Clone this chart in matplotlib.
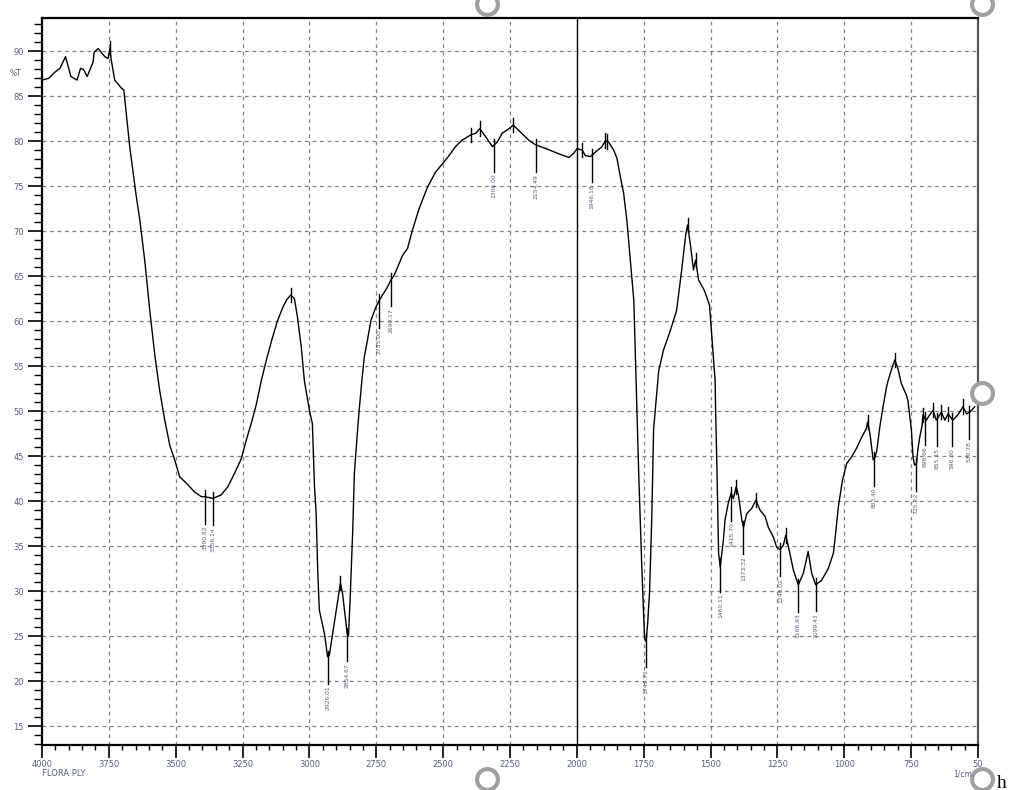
import numpy as np
import matplotlib.pyplot as plt
from matplotlib.lines import Line2D

# spectrum (wavenumber 1/cm, %T)
wavenumber = [4000, 3975, 3951, 3933, 3912, 3892, 3869, 3856, 3845, 3831, 3809, 3805,
              3790, 3765, 3753, 3746, 3742, 3728, 3703, 3694, 3672, 3649, 3634, 3616,
              3597, 3578, 3560, 3541, 3522, 3504, 3485, 3460, 3429, 3404, 3390, 3361,
              3330, 3305, 3280, 3255, 3236, 3218, 3199, 3180, 3160, 3140, 3120, 3100,
              3085, 3070, 3056, 3045, 3030, 3019, 3000, 2989, 2981, 2975, 2969, 2963,
              2944, 2932, 2926, 2913, 2894, 2884, 2876, 2859, 2854, 2848, 2838, 2832,
              2820, 2814, 2804, 2795, 2783, 2770, 2751, 2739, 2727, 2708, 2695, 2683,
              2652, 2633, 2627, 2615, 2590, 2560, 2530, 2500, 2478, 2454, 2430, 2397,
              2378, 2363, 2341, 2316, 2298, 2279, 2254, 2238, 2217, 2179, 2154, 2117,
              2067, 2030, 2011, 1999, 1980, 1968, 1949, 1931, 1906, 1893, 1881, 1862,
              1850, 1837, 1825, 1813, 1787, 1769, 1758, 1747, 1741, 1735, 1728, 1720,
              1713, 1694, 1676, 1650, 1627, 1608, 1593, 1586, 1575, 1564, 1556, 1545,
              1523, 1504, 1497, 1483, 1481, 1476, 1470, 1464, 1452, 1446, 1433, 1423,
              1415, 1404, 1396, 1383, 1377, 1365, 1346, 1331, 1315, 1296, 1284, 1265,
              1253, 1240, 1228, 1219, 1210, 1190, 1172, 1153, 1135, 1122, 1107, 1085,
              1060, 1041, 1035, 1022, 1007, 991, 973, 954, 935, 917, 913, 904,
              892, 886, 878, 867, 855, 842, 836, 824, 811, 799, 787, 768,
              762, 749, 743, 737, 730, 725, 718, 709, 706, 698, 693, 685,
              668, 656, 637, 624, 612, 594, 575, 556, 543, 530, 512]
transmittance = [86.8, 87.0, 87.7, 88.1, 89.4, 87.2, 86.8, 88.1, 88.0, 87.2, 88.8, 89.9,
                 90.3, 89.4, 89.2, 90.3, 89.2, 86.8, 85.9, 85.7, 79.4, 74.2, 71.2, 66.8,
                 61.2, 56.2, 52.3, 49.0, 46.2, 44.6, 42.7, 42.0, 41.0, 40.5, 40.5, 40.3,
                 40.7, 41.6, 43.1, 44.7, 46.8, 48.6, 50.7, 53.4, 55.8, 58.0, 60.0, 61.5,
                 62.4, 62.9, 62.5, 60.5, 57.0, 53.4, 50.1, 48.6, 41.6, 38.7, 32.3, 27.9,
                 25.3, 22.7, 22.8, 25.3, 29.0, 30.9, 29.7, 25.3, 25.0, 29.0, 36.8, 43.1,
                 47.9, 50.1, 53.4, 56.0, 57.9, 60.1, 61.6, 62.3, 62.9, 63.8, 64.6, 65.1,
                 67.3, 68.1, 68.8, 70.1, 72.5, 74.8, 76.5, 77.6, 78.4, 79.4, 80.1, 80.7,
                 80.9, 81.4, 80.5, 79.4, 79.9, 80.9, 81.4, 81.8, 81.2, 80.1, 79.6, 79.2,
                 78.6, 78.2, 78.7, 79.2, 79.0, 78.4, 78.3, 78.8, 79.4, 80.1, 79.9, 79.0,
                 78.1, 76.0, 74.2, 71.2, 62.3, 43.4, 33.4, 24.8, 24.4, 26.5, 30.0, 38.0,
                 48.0, 54.5, 56.8, 59.0, 61.2, 65.7, 69.6, 70.7, 68.4, 65.7, 66.8, 64.6,
                 63.4, 61.8, 59.0, 53.4, 49.9, 43.4, 34.2, 32.7, 35.7, 37.9, 39.9, 40.9,
                 40.3, 41.6, 40.7, 37.9, 37.1, 38.6, 39.2, 40.1, 39.0, 38.3, 37.1, 36.0,
                 34.9, 34.6, 35.1, 36.2, 35.1, 32.3, 30.7, 32.0, 34.4, 32.0, 30.7, 31.2,
                 32.5, 34.2, 35.7, 39.4, 42.3, 44.2, 44.9, 45.9, 47.1, 48.1, 48.8, 47.5,
                 44.6, 44.8, 45.7, 48.3, 50.5, 52.7, 53.4, 54.6, 55.7, 54.7, 53.1, 51.8,
                 51.2, 47.9, 44.9, 44.0, 44.2, 45.7, 47.1, 48.4, 49.6, 49.2, 49.0, 49.4,
                 50.1, 49.0, 49.9, 49.0, 49.7, 49.0, 49.6, 50.5, 49.7, 49.9, 50.5]

# labelled peaks
peak_wn = [3390, 3361, 2932, 2858, 2739, 2694, 2310, 2153, 1944, 1743, 1463, 1422,
           1377, 1239, 1172, 1105, 888, 732, 699, 654, 597, 532]
peak_labels = ['3390.82', '3356.14', '2926.01', '2854.67', '2735.00', '2690.17', '2306.00',
               '2154.49', '1946.18', '1741.72', '1460.11', '1415.70', '1373.32', '1240.02',
               '1166.93', '1099.43', '883.40', '725.22', '698.66', '655.15', '596.30', '530.78']
# other peak marks (short ticks on the trace)
mark_wn = [3746, 3070, 2884, 2397, 2363, 2238, 1980, 1893, 1886, 1586, 1556, 1404,
           1331, 1219, 913, 811, 706, 668, 637, 612, 556]

xticks = [4000, 3750, 3500, 3250, 3000, 2750, 2500, 2250, 2000, 1750, 1500, 1250, 1000, 750, 500]
xtick_labels = ['4000', '3750', '3500', '3250', '3000', '2750', '2500', '2250', '2000',
                '1750', '1500', '1250', '1000', '750', '50']
yticks = [15, 20, 25, 30, 35, 40, 45, 50, 55, 60, 65, 70, 75, 80, 85, 90]

W, H = 1014, 790
fig = plt.figure(figsize=(W / 100, H / 100), dpi=100)
ax = fig.add_axes([42 / W, 1 - 745 / H, 936 / W, 727 / H])

wn = np.array(wavenumber)
tr = np.array(transmittance)
ax.plot(wn, tr, color='black', lw=1.0, zorder=3)

ax.set_xlim(4000, 500)
ax.set_ylim(12.9, 93.7)

# grid
for x in xticks[1:-1]:
    if x == 2000:
        ax.axvline(x, color='black', lw=1.0, zorder=2)
    else:
        ax.axvline(x, color='#808080', lw=0.9, ls=(0, (3, 3)), zorder=1)
for y in yticks:
    ax.axhline(y, color='#808080', lw=0.9, ls=(0, (3, 3)), zorder=1)

# peak labels
interp = lambda w: np.interp(w, wn[::-1], tr[::-1])
for w, lab in zip(peak_wn, peak_labels):
    t = interp(w)
    ax.plot([w, w], [t + 0.7, t - 3.0], color='black', lw=1.0, zorder=3)
    ax.text(w, t - 3.2, lab, rotation=90, ha='center', va='top', fontsize=4.3,
            color='#5a5a78', zorder=3)
for w in mark_wn:
    t = interp(w)
    ax.plot([w, w], [t + 0.8, t - 0.8], color='black', lw=1.0, zorder=3)

# ticks
ax.set_xticks(xticks)
ax.set_xticklabels(xtick_labels)
ax.set_xticks(np.arange(500, 4001, 50), minor=True)
ax.set_yticks(yticks)
ax.set_yticks(np.arange(13, 94, 1), minor=True)
ax.tick_params(axis='x', which='major', direction='out', length=9, width=1.2, pad=1.5,
               labelsize=6, labelcolor='#55607a')
ax.tick_params(axis='x', which='minor', direction='out', length=3.5, width=1.0)
ax.tick_params(axis='y', which='major', direction='out', length=10, width=1.2, pad=3,
               labelsize=6, labelcolor='#55607a')
ax.tick_params(axis='y', which='minor', direction='out', length=5.5, width=1.0)

for s in ['left', 'bottom', 'top']:
    ax.spines[s].set_linewidth(1.6)
    ax.spines[s].set_color('black')
ax.spines['right'].set_linewidth(1.6)
ax.spines['right'].set_color('#555555')

# texts around the frame
fig.text(10 / W, 1 - 74 / H, '%T', fontsize=5.5, color='#55607a', va='center')
fig.text(42 / W, 1 - 773 / H, 'FLORA PLY', fontsize=6, color='#55607a', va='center')
fig.text(953 / W, 1 - 774 / H, '1/cm', fontsize=5.5, color='#55607a', va='center')

# selection handles of the picture frame
for cx, cy in [(487, 4), (982, 4), (982, 393), (487, 779), (982, 779)]:
    fig.add_artist(Line2D([cx / W], [1 - cy / H], marker='o', markersize=15,
                          mfc='white', mec='#a0a0a0', mew=3, transform=fig.transFigure))
fig.text(997 / W, 1 - 788 / H, 'h', fontsize=14, family='Liberation Serif',
         color='black', va='baseline')

fig.savefig('out.png', dpi=100)
